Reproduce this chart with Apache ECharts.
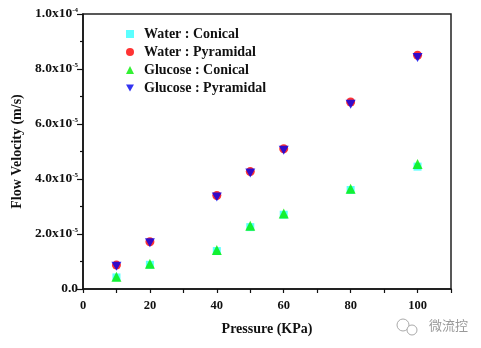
<!DOCTYPE html>
<html>
<head>
<meta charset="utf-8">
<script src="https://cdn.jsdelivr.net/npm/echarts@6/dist/echarts.min.js"></script>
<style>html,body{margin:0;padding:0;background:#fff;}#c{width:481px;height:348px;}</style>
</head>
<body>
<div id="c"></div>
<script>
var pressure = [10, 20, 40, 50, 60, 80, 100];
var waterConical = [4.2e-6, 8.8e-6, 1.38e-5, 2.25e-5, 2.7e-5, 3.6e-5, 4.45e-5];
var waterPyramidal = [8.7e-6, 1.72e-5, 3.4e-5, 4.27e-5, 5.1e-5, 6.8e-5, 8.5e-5];
var glucoseConical = [4.5e-6, 9.2e-6, 1.42e-5, 2.3e-5, 2.75e-5, 3.65e-5, 4.55e-5];
var glucosePyramidal = [8.3e-6, 1.68e-5, 3.35e-5, 4.22e-5, 5.05e-5, 6.72e-5, 8.42e-5];
var seriesNames = ['Water : Conical', 'Water : Pyramidal', 'Glucose : Conical', 'Glucose : Pyramidal'];
var xTickLabels = ['0', '20', '40', '60', '80', '100'];
var yTickMantissa = ['0.0', '2.0', '4.0', '6.0', '8.0', '1.0'];
var yTickExponent = ['', '-5', '-5', '-5', '-5', '-4'];

function pairs(ys) { return pressure.map(function (x, i) { return [x, ys[i]]; }); }

var downTri = 'path://M0,0 L10,0 L5,9 Z';
var font = '"Liberation Serif", "Times New Roman", serif';

var chart = echarts.init(document.getElementById('c'), null, { renderer: 'canvas' });
chart.setOption({
  animation: false,
  backgroundColor: '#fff',
  grid: { left: 83, right: 30, top: 14, bottom: 59, show: true, borderColor: '#222', borderWidth: 1.5, backgroundColor: 'transparent' },
  legend: {
    orient: 'vertical', left: 121, top: 21, itemWidth: 8, itemHeight: 8, itemGap: 2,
    data: seriesNames,
    textStyle: { fontFamily: font, fontWeight: 'bold', fontSize: 14, lineHeight: 16, color: '#111', padding: [0, 0, 0, 5] }
  },
  xAxis: {
    type: 'value', min: 0, max: 110, interval: 10,
    name: 'Pressure (KPa)', nameLocation: 'middle', nameGap: 33,
    nameTextStyle: { fontFamily: font, fontWeight: 'bold', fontSize: 14, color: '#111' },
    axisLine: { show: true, onZero: false, lineStyle: { color: '#111', width: 1.5 } },
    axisTick: { show: true, length: 4, lineStyle: { color: '#111', width: 1.2 } },
    splitLine: { show: false },
    axisLabel: {
      fontFamily: font, fontWeight: 'bold', fontSize: 12.5, color: '#111', margin: 10,
      formatter: function (v) { var i = xTickLabels.indexOf(String(v)); return i >= 0 ? xTickLabels[i] : ''; }
    }
  },
  yAxis: {
    type: 'value', min: 0, max: 1e-4, interval: 2e-5,
    name: 'Flow Velocity (m/s)', nameLocation: 'middle', nameGap: 57, nameRotate: 90,
    nameTextStyle: { fontFamily: font, fontWeight: 'bold', fontSize: 14, color: '#111' },
    axisLine: { show: true, onZero: false, lineStyle: { color: '#111', width: 1.5 } },
    axisTick: { show: true, length: 6, lineStyle: { color: '#111', width: 1.2 } },
    minorTick: { show: true, splitNumber: 2, length: 3, lineStyle: { color: '#111', width: 1.2 } },
    splitLine: { show: false },
    axisLabel: {
      margin: 5,
      formatter: function (v) {
        var i = Math.round(v / 2e-5);
        if (i === 0) return '{m|' + yTickMantissa[0] + '}';
        return '{m|' + yTickMantissa[i] + 'x10}{s|' + yTickExponent[i] + '}';
      },
      rich: {
        m: { fontFamily: font, fontWeight: 'bold', fontSize: 13.5, color: '#111' },
        s: { fontFamily: font, fontWeight: 'bold', fontSize: 7, color: '#111', verticalAlign: 'top', padding: [0, 0, 7, 0] }
      }
    }
  },
  series: [
    { name: seriesNames[0], type: 'scatter', symbol: 'rect', symbolSize: 8, itemStyle: { color: '#33ffff' }, data: pairs(waterConical) },
    { name: seriesNames[1], type: 'scatter', symbol: 'circle', symbolSize: 9, itemStyle: { color: '#ff0000' }, data: pairs(waterPyramidal) },
    { name: seriesNames[2], type: 'scatter', symbol: 'triangle', symbolSize: 10, itemStyle: { color: '#00ee00' }, data: pairs(glucoseConical) },
    { name: seriesNames[3], type: 'scatter', symbol: downTri, symbolSize: [10, 9], itemStyle: { color: '#0000ee' }, data: pairs(glucosePyramidal) }
  ],
  graphic: [
    { type: 'circle', shape: { cx: 403, cy: 325, r: 6 }, style: { fill: 'none', stroke: '#aaa', lineWidth: 1 } },
    { type: 'circle', shape: { cx: 412, cy: 330, r: 5 }, style: { fill: '#fff', stroke: '#aaa', lineWidth: 1 } },
    { type: 'text', left: 429, top: 319, style: { text: '微流控', font: '13px "Noto Sans CJK SC"', fill: '#999' } }
  ]
});
</script>
</body>
</html>
